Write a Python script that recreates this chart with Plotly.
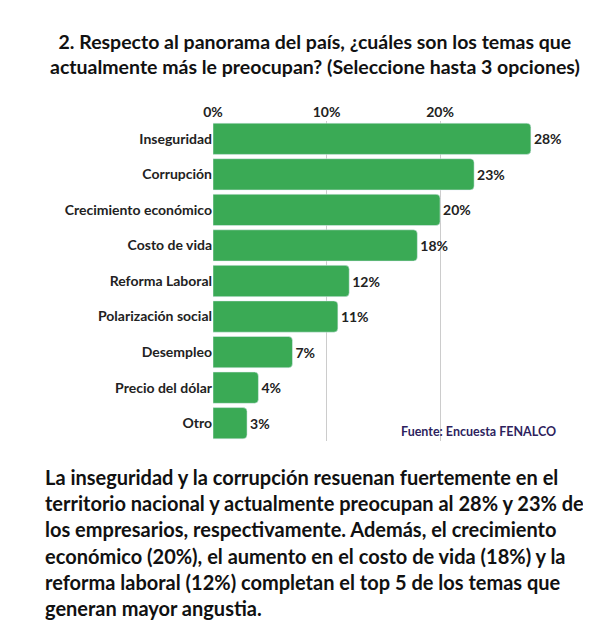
import plotly.graph_objects as go

categories = ["Inseguridad", "Corrupción", "Crecimiento económico", "Costo de vida",
              "Reforma Laboral", "Polarización social", "Desempleo", "Precio del dólar", "Otro"]
values = [28, 23, 20, 18, 12, 11, 7, 4, 3]
labels = ["28%", "23%", "20%", "18%", "12%", "11%", "7%", "4%", "3%"]

F = "Lato"
fig = go.Figure(go.Bar(
    x=values, y=categories, orientation="h", text=["<b>"+t+"</b>" for t in labels],
    textposition="outside", textfont=dict(family=F, size=14, color="#222"), cliponaxis=False,
    marker=dict(color="#3aaa55", cornerradius=4), width=0.88))

fig.update_layout(
    width=591, height=637, paper_bgcolor="white", plot_bgcolor="white",
    margin=dict(l=0, r=0, t=0, b=0, autoexpand=False), showlegend=False,
    font=dict(family=F, color="#222"),
    xaxis=dict(domain=[205/591, 1], range=[0, 34], side="top", tickvals=[0, 10, 20],
               ticktext=["<b>0%</b>", "<b>10%</b>", "<b>20%</b>"], showgrid=True, gridcolor="#cccccc",
               zeroline=False, tickfont=dict(family=F, size=14, color="#222"), ticks="",
               automargin=False),
    yaxis=dict(domain=[1-433/637, 1-113/637], autorange="reversed", automargin=False,
               tickvals=categories, ticktext=["<b>"+c+"</b>" for c in categories],
               tickfont=dict(family=F, size=14, color="#222"), ticksuffix="  ", ticks=""),
)
fig.add_annotation(xref="paper", yref="paper", x=0.52, y=1-20/637, yanchor="top",
    text="<b>2. Respecto al panorama del país, ¿cuáles son los temas que<br>actualmente más le preocupan? (Seleccione hasta 3 opciones)</b>",
    showarrow=False, font=dict(family=F, size=19.5, color="#111"))
fig.add_annotation(xref="paper", yref="paper", x=550/591, y=1-423/637, xanchor="right",
    text="<b>Fuente: Encuesta FENALCO</b>", showarrow=False,
    font=dict(family=F, size=12.5, color="#2e1f5e"))
para = ["La inseguridad y la corrupción resuenan fuertemente en el",
        "territorio nacional y actualmente preocupan al 28% y 23% de",
        "los empresarios, respectivamente. Además, el crecimiento",
        "económico (20%), el aumento en el costo de vida (18%) y la",
        "reforma laboral (12%) completan el top 5 de los temas que",
        "generan mayor angustia."]
for i, line in enumerate(para):
    fig.add_annotation(xref="paper", yref="paper", x=35/591, y=1-(469+26.2*i)/637,
        xanchor="left", yanchor="middle", text="<b>"+line+"</b>", showarrow=False,
        font=dict(family=F, size=20, color="#111"))
fig.add_shape(type="circle", xref="paper", yref="paper", x0=583/591, x1=591/591,
    y0=1-11/637, y1=1-3/637, fillcolor="#22dd66", line_width=0)
fig.write_html("out.html")
